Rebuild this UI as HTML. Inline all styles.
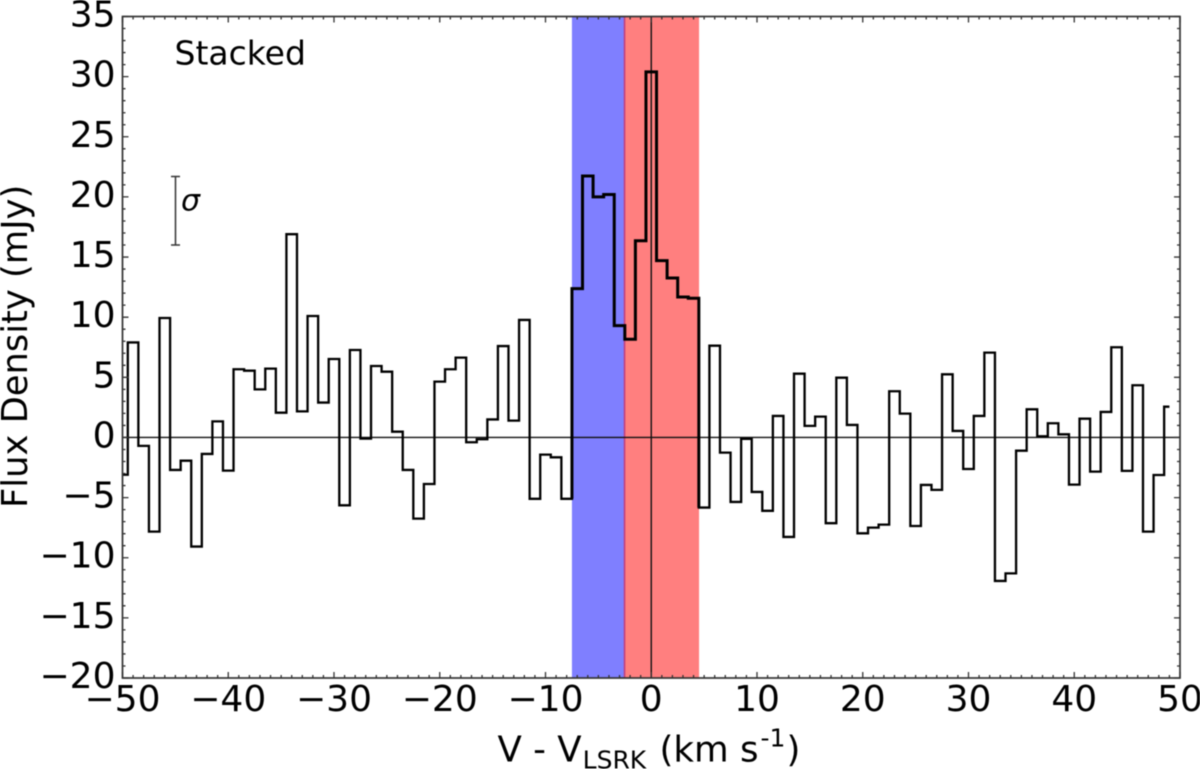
<!DOCTYPE html>
<html>
<head>
<meta charset="utf-8">
<title>Stacked spectrum</title>
<style>
html,body{margin:0;padding:0;background:#fff;}
svg{display:block;filter:blur(0.4px);}
text{font-family:"DejaVu Sans","Liberation Sans",sans-serif;fill:#000;}
</style>
</head>
<body>
<svg id="chart" xmlns="http://www.w3.org/2000/svg" width="1200" height="769" viewBox="0 0 1200 769">
  <rect x="0" y="0" width="1200" height="769" fill="#fff"/>
  <g id="spans"></g>
  <g id="refs"></g>
  <g id="series"></g>
  <g id="ticks"></g>
  <rect x="122.5" y="16.5" width="1057.5" height="661.5" fill="none" stroke="#333" stroke-width="1.7"/>
  <g id="labels" font-size="36"></g>
  <text transform="translate(27,508) rotate(-90)" text-anchor="start" font-size="35.3">Flux Density (mJy)</text>
  <text x="497.5" y="761.5" text-anchor="start" font-size="35.6">V - V<tspan font-size="25" dy="7" dx="1">LSRK</tspan><tspan dy="-7" dx="2"> (km s</tspan><tspan font-size="25" dy="-15" dx="2">-1</tspan><tspan dy="15" dx="1">)</tspan></text>
  <text x="174.5" y="64.5" font-size="33">Stacked</text>
  <g stroke="#333" stroke-width="1.5" fill="none">
    <line x1="175.5" y1="176.5" x2="175.5" y2="245"/>
    <line x1="171" y1="176.5" x2="180" y2="176.5"/>
    <line x1="171" y1="245" x2="180" y2="245"/>
  </g>
  <text x="181" y="210.5" font-size="30" font-style="italic">σ</text>
</svg>
<script>
var velocities = [];
for (var n = -50; n <= 49; n++) { velocities.push(n); }
var fluxValues = [
  -3.1, 7.9, -0.7, -7.83, 9.93, -2.7, -1.93, -9.07, -1.37, 1.34,
  -2.76, 5.67, 5.55, 4.0, 5.72, 2.06, 16.9, 2.17, 10.1, 2.9,
  6.52, -5.64, 7.27, -0.1, 5.94, 5.47, 0.48, -2.7, -6.75, -3.87,
  4.64, 5.67, 6.64, -0.4, -0.15, 1.5, 7.6, 1.4, 9.77, -5.1,
  -1.43, -1.65, -5.1, 12.37, 21.74, 20.0, 20.2, 9.3, 8.16, 16.36,
  30.4, 14.7, 13.26, 11.68, 11.57, -5.83, 7.63, -1.26, -5.36, -0.12,
  -4.53, -6.1, 1.79, -8.27, 5.3, 0.96, 1.73, -7.13, 4.97, 1.04,
  -7.97, -7.5, -7.25, 3.84, 1.98, -7.36, -3.95, -4.36, 5.25, 0.54,
  -2.62, 1.79, 7.05, -11.93, -11.3, -1.1, 2.34, 0.1, 1.18, 0.26,
  -3.92, 1.56, -2.84, 2.12, 7.5, -2.78, 4.34, -7.83, -3.12, 2.56
];
var xTickValues = [-50, -40, -30, -20, -10, 0, 10, 20, 30, 40, 50];
var yTickValues = [-20, -15, -10, -5, 0, 5, 10, 15, 20, 25, 30, 35];
var blueBand = [-7.5, -2.45];
var redBand = [-2.6, 4.52];
var lineBand = [-7, 4];
var xDomain = [-50, 50];
var yDomain = [-20, 35];

var NS = 'http://www.w3.org/2000/svg';
var left = 122.5, right = 1180, top_ = 16.5, bottom = 678;
function X(v) { return left + (v - xDomain[0]) / (xDomain[1] - xDomain[0]) * (right - left); }
function Y(v) { return bottom - (v - yDomain[0]) / (yDomain[1] - yDomain[0]) * (bottom - top_); }
function make(tag, parent, attrs) {
  var el = document.createElementNS(NS, tag);
  for (var k in attrs) { el.setAttribute(k, attrs[k]); }
  parent.appendChild(el);
  return el;
}
function fmt(v) { return v < 0 ? '\u2212' + Math.abs(v) : String(v); }

var spans = document.getElementById('spans');
var blue = make('rect', spans, {x: X(blueBand[0]), y: top_, width: X(blueBand[1]) - X(blueBand[0]), height: bottom - top_, fill: '#0000ff', 'fill-opacity': 0.5});


var red = make('rect', spans, {x: X(redBand[0]), y: top_, width: X(redBand[1]) - X(redBand[0]), height: bottom - top_, fill: '#ff0000', 'fill-opacity': 0.5});



var refs = document.getElementById('refs');
var hz = make('line', refs, {x1: left, x2: right, y1: Y(0), y2: Y(0), stroke: '#111', 'stroke-width': 1.4});


var vt = make('line', refs, {x1: X(0), x2: X(0), y1: top_, y2: bottom, stroke: '#111', 'stroke-width': 1.4});



function stepPath(i0, i1, extendLeft, extendRight) {
  var d = '';
  for (var i = i0; i <= i1; i++) {
    var a = (i === 0) ? velocities[0] : velocities[i] - 0.5;
    var b = (i === velocities.length - 1) ? velocities[i] : velocities[i] + 0.5;
    if (i === i0) {
      if (extendLeft) { d += 'M' + X(a) + ' ' + Y(fluxValues[i - 1]) + 'L' + X(a) + ' ' + Y(fluxValues[i]); }
      else { d += 'M' + X(a) + ' ' + Y(fluxValues[i]); }
    } else {
      d += 'L' + X(a) + ' ' + Y(fluxValues[i]);
    }
    d += 'L' + X(b) + ' ' + Y(fluxValues[i]);
  }
  if (extendRight) { d += 'L' + X(velocities[i1] + 0.5) + ' ' + Y(fluxValues[i1 + 1]); }
  return d;
}
var series = document.getElementById('series');
var full = make('path', series, {d: stepPath(0, velocities.length - 1, false, false), fill: 'none', stroke: '#000', 'stroke-width': 2.3, 'stroke-linejoin': 'miter'});


var i0 = velocities.indexOf(lineBand[0]), i1 = velocities.indexOf(lineBand[1]);
var bold = make('path', series, {d: stepPath(i0, i1, true, true), fill: 'none', stroke: '#000', 'stroke-width': 3, 'stroke-linejoin': 'miter'});



var ticks = document.getElementById('ticks');
var dt = '';
for (var xv = xDomain[0]; xv <= xDomain[1]; xv += 1) {
  var lenX = (xv % 10 === 0) ? 6 : 3;
  dt += 'M' + X(xv) + ' ' + bottom + 'V' + (bottom - lenX) + 'M' + X(xv) + ' ' + top_ + 'V' + (top_ + lenX);
}
for (var yv = yDomain[0]; yv <= yDomain[1]; yv += 1) {
  var lenY = (yv % 5 === 0) ? 6 : 3;
  dt += 'M' + left + ' ' + Y(yv) + 'H' + (left + lenY) + 'M' + right + ' ' + Y(yv) + 'H' + (right - lenY);
}
var tickPath = make('path', ticks, {d: dt, fill: 'none', stroke: '#333', 'stroke-width': 1.3});



var labels = document.getElementById('labels');
xTickValues.forEach(function (v) {
  var t = make('text', labels, {x: X(v), y: 711, 'text-anchor': 'middle'});
  
  
  t.textContent = fmt(v);
});
yTickValues.forEach(function (v) {
  var t = make('text', labels, {x: 115.5, y: Y(v) + 10, 'text-anchor': 'end'});
  
  
  t.textContent = fmt(v);
});
</script>
</body>
</html>
